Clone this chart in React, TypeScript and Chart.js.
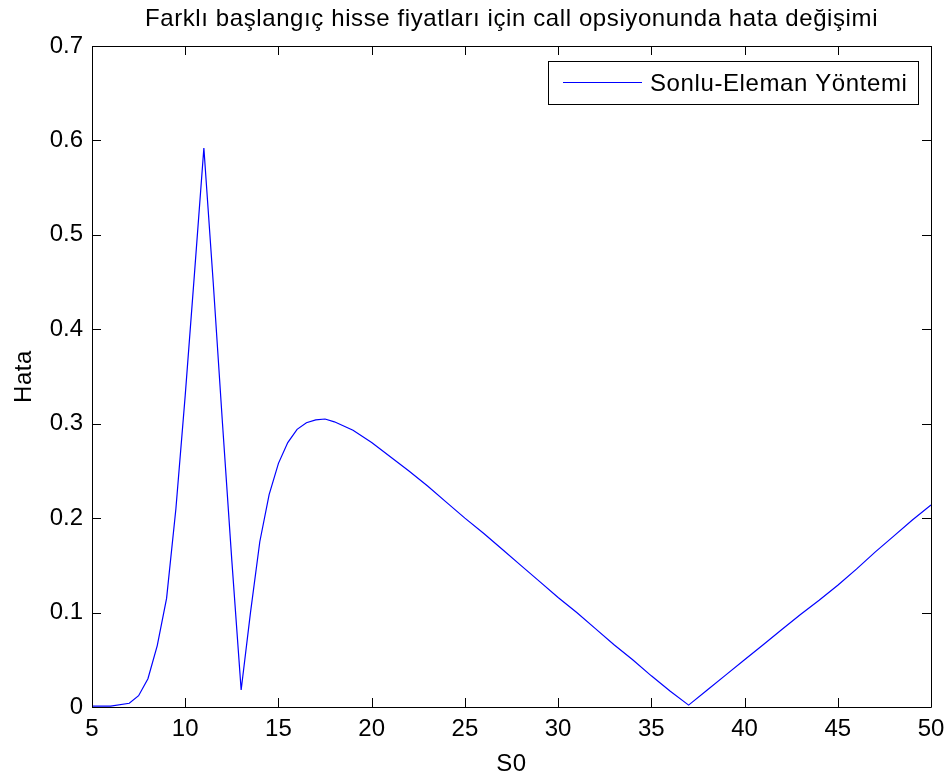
import React, { useEffect, useRef } from "react";
import { Chart, registerables } from "chart.js";

Chart.register(...registerables);

const titleText = "Farklı başlangıç hisse fiyatları için call opsiyonunda hata değişimi";
const xLabel = "S0";
const yLabel = "Hata";
const seriesName = "Sonlu-Eleman Yöntemi";

const s0Values = [
  5, 6, 7, 7.5, 8, 8.5, 9, 9.5, 10, 10.5, 11, 11.5, 12, 12.5, 13, 13.5, 14, 14.5, 15, 15.5,
  16, 16.5, 17, 17.5, 18, 19, 20, 21, 22, 23, 24, 25, 26, 27, 28, 29, 30, 31, 32, 33, 34, 35,
  36, 37, 38, 39, 40, 41, 42, 43, 44, 45, 46, 47, 48, 49, 50,
];
const hataValues = [
  0.001, 0.001, 0.004, 0.012, 0.03, 0.065, 0.115, 0.21, 0.33, 0.46, 0.592, 0.45, 0.3, 0.155,
  0.018, 0.1, 0.175, 0.225, 0.258, 0.28, 0.294, 0.301, 0.304, 0.305, 0.302, 0.293, 0.28, 0.265,
  0.25, 0.234, 0.217, 0.2, 0.184, 0.167, 0.15, 0.133, 0.116, 0.1, 0.083, 0.066, 0.05, 0.033,
  0.017, 0.002, 0.018, 0.034, 0.05, 0.066, 0.082, 0.098, 0.113, 0.129, 0.146, 0.164, 0.181,
  0.198, 0.214,
];

const FONT = '"Liberation Sans", Arial, sans-serif';

const decorPlugin = {
  id: "decor",
  afterDraw(chart: any) {
    const { ctx, chartArea } = chart;
    const { left, right, top, bottom } = chartArea;
    const xs = chart.scales.x;
    const ys = chart.scales.y;
    ctx.save();
    // frame
    ctx.strokeStyle = "#000";
    ctx.lineWidth = 1;
    ctx.beginPath();
    ctx.rect(Math.round(left) + 0.5, Math.round(top) + 0.5, Math.round(right - left), Math.round(bottom - top));
    ctx.stroke();
    // inward ticks
    const tl = 9;
    ctx.beginPath();
    xs.ticks.forEach((t: any) => {
      const px = Math.round(xs.getPixelForValue(t.value)) + 0.5;
      ctx.moveTo(px, bottom);
      ctx.lineTo(px, bottom - tl);
      ctx.moveTo(px, top);
      ctx.lineTo(px, top + tl);
    });
    ys.ticks.forEach((t: any) => {
      const py = Math.round(ys.getPixelForValue(t.value)) + 0.5;
      ctx.moveTo(left, py);
      ctx.lineTo(left + tl, py);
      ctx.moveTo(right, py);
      ctx.lineTo(right - tl, py);
    });
    ctx.stroke();

    // title
    ctx.fillStyle = "#000";
    ctx.font = `24px ${FONT}`;
    (ctx as any).letterSpacing = "0.6px";
    ctx.textAlign = "center";
    ctx.textBaseline = "alphabetic";
    ctx.fillText(titleText, (left + right) / 2, 26);
    // x label
    ctx.fillText(xLabel, (left + right) / 2, 771);
    // y label
    ctx.save();
    ctx.translate(31, (top + bottom) / 2);
    ctx.rotate(-Math.PI / 2);
    ctx.fillText(yLabel, 0, 0);
    ctx.restore();

    // legend
    const lx = 548, ly = 61, lw = 370, lh = 43;
    ctx.fillStyle = "#fff";
    ctx.fillRect(lx, ly, lw, lh);
    ctx.strokeStyle = "#000";
    ctx.strokeRect(lx + 0.5, ly + 0.5, lw, lh);
    ctx.strokeStyle = "rgb(0,0,255)";
    ctx.beginPath();
    ctx.moveTo(563, 82.5);
    ctx.lineTo(642, 82.5);
    ctx.stroke();
    ctx.fillStyle = "#000";
    ctx.textAlign = "left";
    ctx.fillText(seriesName, 650, 91);
    ctx.restore();
  },
};

export default function App() {
  const ref = useRef<HTMLCanvasElement | null>(null);
  useEffect(() => {
    document.body.style.margin = "0";
    const canvas = ref.current;
    if (!canvas) return;
    const chart = new Chart(canvas, {
      type: "line",
      data: {
        datasets: [
          {
            label: seriesName,
            data: s0Values.map((x, i) => ({ x, y: hataValues[i] })),
            borderColor: "rgb(0,0,255)",
            borderWidth: 1.2,
            pointRadius: 0,
            tension: 0,
            fill: false,
          },
        ],
      },
      options: {
        responsive: false,
        animation: false,
        events: [],
        layout: { padding: { top: 46, right: 14, left: 0, bottom: 0 } },
        plugins: {
          legend: { display: false },
          title: { display: false },
          tooltip: { enabled: false },
        },
        scales: {
          x: {
            type: "linear",
            min: 5,
            max: 50,
            border: { display: false },
            grid: { display: false, drawTicks: false },
            ticks: {
              stepSize: 5,
              color: "#000",
              padding: 8,
              maxRotation: 0,
              font: { family: FONT, size: 24 },
            },
            afterFit(scale: any) {
              scale.height = 71;
              scale.paddingLeft = 0;
              scale.paddingRight = 0;
            },
          },
          y: {
            type: "linear",
            min: 0,
            max: 0.7,
            border: { display: false },
            grid: { display: false, drawTicks: false },
            ticks: {
              stepSize: 0.1,
              color: "#000",
              padding: 9,
              font: { family: FONT, size: 24 },
              callback: (v: any) => String(Math.round(Number(v) * 10) / 10),
            },
            afterFit(scale: any) {
              scale.width = 92;
              scale.paddingTop = 0;
              scale.paddingBottom = 0;
            },
          },
        },
      },
      plugins: [decorPlugin],
    });
    return () => chart.destroy();
  }, []);
  return (
    <div style={{ position: "absolute", left: 0, top: 0, width: 945, height: 778, background: "#fff" }}>
      <canvas ref={ref} width={945} height={778} />
    </div>
  );
}
